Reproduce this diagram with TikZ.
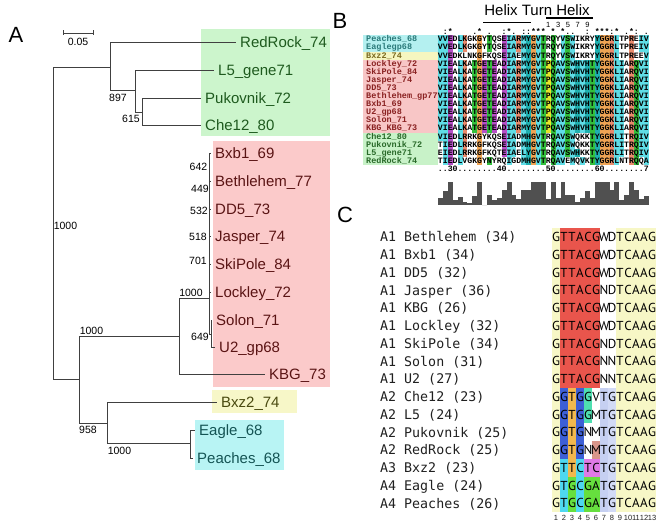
\documentclass[tikz,border=0pt]{standalone}
\usepackage{fontspec}
\setmainfont{Liberation Sans}
\newfontfamily\courf{Liberation Mono}
\newfontfamily\menlof{DejaVu Sans Mono}
\newfontfamily\seqf{PT Sans}
% panel A colours
\definecolor{bgG}{HTML}{CCF5CC}
\definecolor{bgR}{HTML}{FBCACA}
\definecolor{bgY}{HTML}{F7F7C8}
\definecolor{bgC}{HTML}{B8F4F4}
\definecolor{txG}{HTML}{1E5A1E}
\definecolor{txR}{HTML}{5A1414}
\definecolor{txY}{HTML}{4A4A10}
\definecolor{txC}{HTML}{145454}
\definecolor{treeC}{HTML}{404040}
% panel B colours
\definecolor{nbC}{HTML}{B4F0F0}
\definecolor{nbY}{HTML}{F6F6C0}
\definecolor{nbR}{HTML}{F8C6C6}
\definecolor{nbG}{HTML}{C8F2C8}
\definecolor{ntC}{HTML}{2A7A7A}
\definecolor{ntY}{HTML}{7A6A20}
\definecolor{ntR}{HTML}{8A2222}
\definecolor{ntG}{HTML}{2A6A2A}
\definecolor{clh}{HTML}{5FDDE6}
\definecolor{cln}{HTML}{B64FC6}
\definecolor{clp}{HTML}{E88A6C}
\definecolor{clo}{HTML}{33C03C}
\definecolor{clg}{HTML}{EFA454}
\definecolor{cly}{HTML}{E6E62A}
\definecolor{cla}{HTML}{1FB0B0}
\definecolor{histC}{HTML}{505050}
% panel C colours
\definecolor{cY}{HTML}{F7F7C6}
\definecolor{cR}{HTML}{E9554C}
\definecolor{cB}{HTML}{3D5FD6}
\definecolor{cO}{HTML}{F2B84E}
\definecolor{cT}{HTML}{4EDFB0}
\definecolor{cP}{HTML}{D9968A}
\definecolor{cC}{HTML}{4ED8F0}
\definecolor{cM}{HTML}{E07AE6}
\definecolor{cG}{HTML}{66DF3E}
\definecolor{cL}{HTML}{C6D0F2}
\definecolor{cLb}{HTML}{D2DAF6}
\definecolor{labC}{HTML}{202020}

\newcount\alncol
\def\alnclass#1#2{\expandafter\def\csname alncls@#1\endcsname{#2}}
\alnclass{A}{clh}\alnclass{I}{clh}\alnclass{L}{clh}\alnclass{M}{clh}%
\alnclass{F}{clh}\alnclass{W}{clh}\alnclass{V}{clh}\alnclass{C}{clh}%
\alnclass{K}{clp}\alnclass{R}{clp}\alnclass{D}{cln}\alnclass{E}{cln}%
\alnclass{N}{clo}\alnclass{Q}{clo}\alnclass{S}{clo}\alnclass{T}{clo}%
\alnclass{G}{clg}\alnclass{P}{cly}\alnclass{H}{cla}\alnclass{Y}{cla}%
\alnclass{-}{none}%
\def\alnref{VIE-LK-TGETE-DIARMYGVTPQAVSWHVHTYGGKLI-RQVI}
\def\alnrow#1#2{\edef\alnY{#1}\global\alncol=0\relax
  \expandafter\alnstart\alnref\relax#2\relax}
\def\alnstart#1\relax#2\relax{\alnloop#2\relax#1\relax}
\def\alnloop#1#2\relax#3#4\relax{%
  \global\advance\alncol by 1\relax
  \edef\alnA{\csname alncls@#1\endcsname}%
  \edef\alnB{\csname alncls@#3\endcsname}%
  \pgfmathsetmacro\alnX{438+4.9*(\the\alncol-1)}%
  \ifx\alnA\alnB\fill[fill=\alnA] (\alnX,\alnY-4.05) rectangle ++(4.9,8.1);\fi
  \node[alnch] (a\alnY-\the\alncol) at (\alnX+2.45,\alnY+2.35) {#1};%
  \if\relax\detokenize{#2}\relax\else\alnloop#2\relax#4\relax\fi}
\def\plainrow#1#2#3{\edef\alnY{#1}\def\plainid{#3}\global\alncol=0\relax\plainloop#2\relax}
\def\plainloop#1#2\relax{%
  \global\advance\alncol by 1\relax
  \if#1-\else
    \pgfmathsetmacro\alnX{438+4.9*(\the\alncol-1)}%
    \node[alnch] (\plainid-\the\alncol) at (\alnX+2.45,\alnY+2.35) {#1};%
  \fi
  \if\relax\detokenize{#2}\relax\else\plainloop#2\relax\fi}

\newcommand\bname[4]{%
  \pgfmathsetmacro\byy{39.5+8.1*#1}%
  \fill[fill=#4] (363,\byy-4.05) rectangle (437.5,\byy+4.05);
  \node[nm,text=#3] (bn#1) at (366,\byy+2.4) {#2};}
\newcommand\brow[2]{\pgfmathsetmacro\byy{39.5+8.1*#1}\alnrow{\byy}{#2}}

\newcommand\pcrow[4]{%
  \pgfmathsetmacro\cyy{237+17.75*#1}%
  \foreach \cc [count=\j] in {#4} {\fill[fill=\cc] (544+8*\j,\cyy-8.875) rectangle ++(8,17.75);}
  \node[clab] (cl#1) at (380,\cyy+4.85) {#2};
  \foreach \ch [count=\j] in {#3} {\node[cseq] (cs#1-\j) at (548+8*\j,\cyy+4.6) {\ch};}}

\tikzset{
  tl/.style={draw=treeC,line width=0.9pt},
  leaf/.style={font=\fontsize{15}{15}\selectfont,anchor=west,inner xsep=4pt,inner ysep=0pt,text height=12.5pt,text depth=1.7pt},
  bs/.style={font=\fontsize{10.5}{10.5}\selectfont,inner sep=0pt,text=black},
  plab/.style={font=\fontsize{22}{22}\selectfont,inner sep=0pt},
  nm/.style={font=\courf\bfseries\fontsize{8.5}{8.5}\selectfont,anchor=base west,inner sep=0pt},
  alnch/.style={font=\courf\bfseries\fontsize{8.2}{8.2}\selectfont,anchor=base,inner sep=0pt},
  clab/.style={font=\menlof\fontsize{13.3}{13.3}\selectfont,anchor=base west,inner sep=0pt,text=labC},
  cseq/.style={font=\seqf\fontsize{13}{13}\selectfont,anchor=base,inner sep=0pt},
  cnum/.style={font=\fontsize{7.5}{7.5}\selectfont,inner sep=0pt,text=labC},
  hx/.style={draw=black,line width=1.1pt},
}

\begin{document}
\begin{tikzpicture}[x=1pt,y=-1pt]
\useasboundingbox (0,0) rectangle (661,524);
\fill[white] (0,0) rectangle (661,524);

%================ Panel A =================
\node[plab] (pA) at (16,35) {A};
\fill[bgG] (201,29) rectangle (330,136);
\fill[bgR] (213,141) rectangle (330,387);
\fill[bgY] (212,390) rectangle (297,413);
\fill[bgC] (195,420) rectangle (284,470);

% scale bar
\coordinate (sb1) at (63,33);
\coordinate (sb2) at (93,33);
\draw[tl] (sb1) -- (sb2);
\draw[tl] ([yshift=2.5pt]sb1) -- ([yshift=-2.5pt]sb1);
\draw[tl] ([yshift=2.5pt]sb2) -- ([yshift=-2.5pt]sb2);
\node[bs] (sbl) at (78,41.5) {0.05};

% internal nodes
\coordinate (R) at (53,223);
\coordinate (N1) at (110,67);
\coordinate (N2) at (135,90);
\coordinate (N3) at (142,112);
\coordinate (N4) at (79,379);
\coordinate (N5) at (179,336);
\coordinate (N6) at (209,298);
\coordinate (N6b) at (211,334);
\coordinate (N7) at (107,423);
\coordinate (N8) at (190,443);

% leaves
\node[leaf,text=txG] (lRR) at (236,42) {RedRock\_74};
\node[leaf,text=txG] (lL5) at (214,70) {L5\_gene71};
\node[leaf,text=txG] (lPk) at (201,98) {Pukovnik\_72};
\node[leaf,text=txG] (lCh) at (201,125) {Che12\_80};
\node[leaf,text=txR] (lBx) at (211,153) {Bxb1\_69};
\node[leaf,text=txR] (lBe) at (211,181) {Bethlehem\_77};
\node[leaf,text=txR] (lDD) at (211,209) {DD5\_73};
\node[leaf,text=txR] (lJa) at (211,236) {Jasper\_74};
\node[leaf,text=txR] (lSk) at (211,264) {SkiPole\_84};
\node[leaf,text=txR] (lLo) at (211,292) {Lockley\_72};
\node[leaf,text=txR] (lSo) at (212,320) {Solon\_71};
\node[leaf,text=txR] (lU2) at (215,347) {U2\_gp68};
\node[leaf,text=txR] (lKB) at (265,374) {KBG\_73};
\node[leaf,text=txY] (lBz) at (217,402) {Bxz2\_74};
\node[leaf,text=txC] (lEa) at (195,430) {Eagle\_68};
\node[leaf,text=txC] (lPe) at (193,458) {Peaches\_68};

% branches
\draw[tl] (R) |- (N1);
\draw[tl] (R) |- (N4);
\draw[tl] (N1) |- (lRR.west);
\draw[tl] (N1) |- (N2);
\draw[tl] (N2) |- (lL5.west);
\draw[tl] (N2) |- (N3);
\draw[tl] (N3) |- (lPk.west);
\draw[tl] (N3) |- (lCh.west);
\draw[tl] (N4) |- (N5);
\draw[tl] (N4) |- (N7);
\draw[tl] (N5) |- (N6);
\draw[tl] (N5) |- (lKB.west);
\draw[tl] (N6) |- (lBx.west);
\draw[tl] (N6) |- (lBe.west);
\draw[tl] (N6) |- (lDD.west);
\draw[tl] (N6) |- (lJa.west);
\draw[tl] (N6) |- (lSk.west);
\draw[tl] (N6) |- (lLo.west);
\draw[tl] (N6) |- (N6b);
\draw[tl] (N6b) |- (lSo.west);
\draw[tl] (N6b) |- (lU2.west);
\draw[tl] (N7) |- (lBz.west);
\draw[tl] (N7) |- (N8);
\draw[tl] (N8) |- (lEa.west);
\draw[tl] (N8) |- (lPe.west);

% bootstrap values
\node[bs] (b897) at (118,98) {897};
\node[bs] (b615) at (131,118.5) {615};
\node[bs] (bR) at (65.5,226) {1000};
\node[bs] (bN5) at (91.5,331) {1000};
\node[bs] (b958) at (88,430) {958};
\node[bs] (bN8) at (119.5,451) {1000};
\node[bs] (bN6) at (191,293) {1000};
\node[bs] (b649) at (200,337) {649};
\node[bs] (b701) at (198,261) {701};
\node[bs] (b642) at (198.5,167) {642};
\node[bs] (b449) at (200,189) {449};
\node[bs] (b532) at (199,211) {532};
\node[bs] (b518) at (198,237) {518};

%================ Panel B =================
\node[plab] (pB) at (340,21) {B};
\node[font=\fontsize{15}{15}\selectfont,inner sep=0pt] (hth) at (537,10.5) {Helix Turn Helix};
\coordinate (h1a) at (483,22.5);
\coordinate (h1b) at (531,22.5);
\coordinate (h2a) at (546,18);
\coordinate (h2b) at (593,18);
\draw[hx] (h1a) -- (h1b);
\draw[hx] (h2a) -- (h2b);
\foreach \n [count=\i] in {1,3,5,7,9}
  \node[cnum,text=black] (hn\i) at (548.3+9.8*\i-9.8,25.3) {\n};
\plainrow{32}{-:*----.*-.--:*.-::***-*-*..--:-***:*-.*:-.}{cons}

\bname{0}{Peaches\_68}{ntC}{nbC}
\bname{1}{Eaglegp68}{ntC}{nbC}
\bname{2}{Bxz2\_74}{ntY}{nbY}
\bname{3}{Lockley\_72}{ntR}{nbR}
\bname{4}{SkiPole\_84}{ntR}{nbR}
\bname{5}{Jasper\_74}{ntR}{nbR}
\bname{6}{DD5\_73}{ntR}{nbR}
\bname{7}{Bethlehem\_gp77}{ntR}{nbR}
\bname{8}{Bxb1\_69}{ntR}{nbR}
\bname{9}{U2\_gp68}{ntR}{nbR}
\bname{10}{Solon\_71}{ntR}{nbR}
\bname{11}{KBG\_KBG\_73}{ntR}{nbR}
\bname{12}{Che12\_80}{ntG}{nbG}
\bname{13}{Pukovnik\_72}{ntG}{nbG}
\bname{14}{L5\_gene71}{ntG}{nbG}
\bname{15}{RedRock\_74}{ntG}{nbG}

\brow{0}{VVEDLKGKGYTQSEIARMYGVTRQYVSWIKRYYGGRLTPREIV}
\brow{1}{VVEDLKGKGYTQSEIARMYGVTRQYVSWIKRYYGGRLTPREIV}
\brow{2}{VVEDKLNKGFKQSEIAEMYGVTRQYVSWIKRYYGGRLTPREEV}
\brow{3}{VIEALKATGETEADIARMYGVTPQAVSWHVHTYGGKLIARQVI}
\brow{4}{VIEALKATGETEADIARMYGVTPQAVSWHVHTYGGKLIARQVI}
\brow{5}{VIEALKATGETEADIARMYGVTPQAVSWHVHTYGGKLIARQVI}
\brow{6}{VIEALKATGETEADIARMYGVTPQAVSWHVHTYGGKLIARQVI}
\brow{7}{VIEALKATGETEADIARMYGVTPQAVSWHVHTYGGKLIARQVI}
\brow{8}{VIEALKATGETEADIARMYGVTPQAVSWHVHTYGGKLIARQVI}
\brow{9}{VIEALKATGETEADIARMYGVTPQAVSWHVHTYGGKLIARQVI}
\brow{10}{VIEALKATGETEADIARMYGVTPQAVSWHVHTYGGKLIARQVI}
\brow{11}{VIEALKATGETEADIARMYGVTPQAVSWHVHTYGGKLIARQVI}
\brow{12}{VIEDLRRKGYKQSEIADMHGVTRQAVSWQKKTYGGRLITRQIV}
\brow{13}{TIEDLRRKGFKQSEIADMHGVTRQAVSWQKKTYGGRLITRQIV}
\brow{14}{EIEDLRRKGFKQTEIAELYGVTRQAVSWHKKTYGGRLITRQIV}
\brow{15}{TIEDLVGKGYNYRQIGDMHGVTRQAVEMQVKTYGGRLNTRQQA}

\plainrow{169}{..30........40........50........60........7}{ruler}

\foreach \h [count=\k] in {.3,.6,1,.2,.35,.15,.1,.4,1,0,.45,.2,.3,.65,1,.45,.25,.65,.65,1,1,1,.25,1,.3,1,.45,.45,.15,.3,.6,.3,1,1,1,.65,1,.2,.45,1,.65,.25,.4}
  \fill[histC] (438+4.9*\k-4.9,205) rectangle ++(4.9,-23*\h);

%================ Panel C =================
\node[plab] (pC) at (345,215) {C};
\pcrow{0}{A1 Bethlehem (34)}{G,T,T,A,C,G,W,D,T,C,A,A,G}{cY,cR,cR,cR,cR,cR,white,white,cY,cY,cY,cY,cY}
\pcrow{1}{A1 Bxb1 (34)}{G,T,T,A,C,G,W,D,T,C,A,A,G}{cY,cR,cR,cR,cR,cR,white,white,cY,cY,cY,cY,cY}
\pcrow{2}{A1 DD5 (32)}{G,T,T,A,C,G,W,D,T,C,A,A,G}{cY,cR,cR,cR,cR,cR,white,white,cY,cY,cY,cY,cY}
\pcrow{3}{A1 Jasper (36)}{G,T,T,A,C,G,N,D,T,C,A,A,G}{cY,cR,cR,cR,cR,cR,white,white,cY,cY,cY,cY,cY}
\pcrow{4}{A1 KBG (26)}{G,T,T,A,C,G,W,D,T,C,A,A,G}{cY,cR,cR,cR,cR,cR,white,white,cY,cY,cY,cY,cY}
\pcrow{5}{A1 Lockley (32)}{G,T,T,A,C,G,W,D,T,C,A,A,G}{cY,cR,cR,cR,cR,cR,white,white,cY,cY,cY,cY,cY}
\pcrow{6}{A1 SkiPole (34)}{G,T,T,A,C,G,N,D,T,C,A,A,G}{cY,cR,cR,cR,cR,cR,white,white,cY,cY,cY,cY,cY}
\pcrow{7}{A1 Solon (31)}{G,T,T,A,C,G,N,N,T,C,A,A,G}{cY,cR,cR,cR,cR,cR,white,white,cY,cY,cY,cY,cY}
\pcrow{8}{A1 U2 (27)}{G,T,T,A,C,G,N,N,T,C,A,A,G}{cY,cR,cR,cR,cR,cR,white,white,cY,cY,cY,cY,cY}
\pcrow{9}{A2 Che12 (23)}{G,G,T,G,G,V,T,G,T,C,A,A,G}{cY,cB,cO,cB,cT,white,cL,cLb,cY,cY,cY,cY,cY}
\pcrow{10}{A2 L5 (24)}{G,G,T,G,G,M,T,G,T,C,A,A,G}{cY,cB,cO,cB,cT,white,cL,cLb,cY,cY,cY,cY,cY}
\pcrow{11}{A2 Pukovnik (25)}{G,G,T,G,N,M,T,G,T,C,A,A,G}{cY,cB,cO,cB,white,white,cL,cLb,cY,cY,cY,cY,cY}
\pcrow{12}{A2 RedRock (25)}{G,G,T,G,N,M,T,G,T,C,A,A,G}{cY,cB,cO,cB,white,cP,cL,cLb,cY,cY,cY,cY,cY}
\pcrow{13}{A3 Bxz2 (23)}{G,T,T,C,T,C,T,G,T,C,A,A,G}{cY,cC,cO,cC,cM,cM,cL,cLb,cY,cY,cY,cY,cY}
\pcrow{14}{A4 Eagle (24)}{G,T,G,C,G,A,T,G,T,C,A,A,G}{cY,cC,cG,cC,cG,cG,cL,cLb,cY,cY,cY,cY,cY}
\pcrow{15}{A4 Peaches (26)}{G,T,G,C,G,A,T,G,T,C,A,A,G}{cY,cC,cG,cC,cG,cG,cL,cLb,cY,cY,cY,cY,cY}
\foreach \j in {1,...,13} \node[cnum] (cn\j) at (548+8*\j,518) {\j};
\end{tikzpicture}
\end{document}
